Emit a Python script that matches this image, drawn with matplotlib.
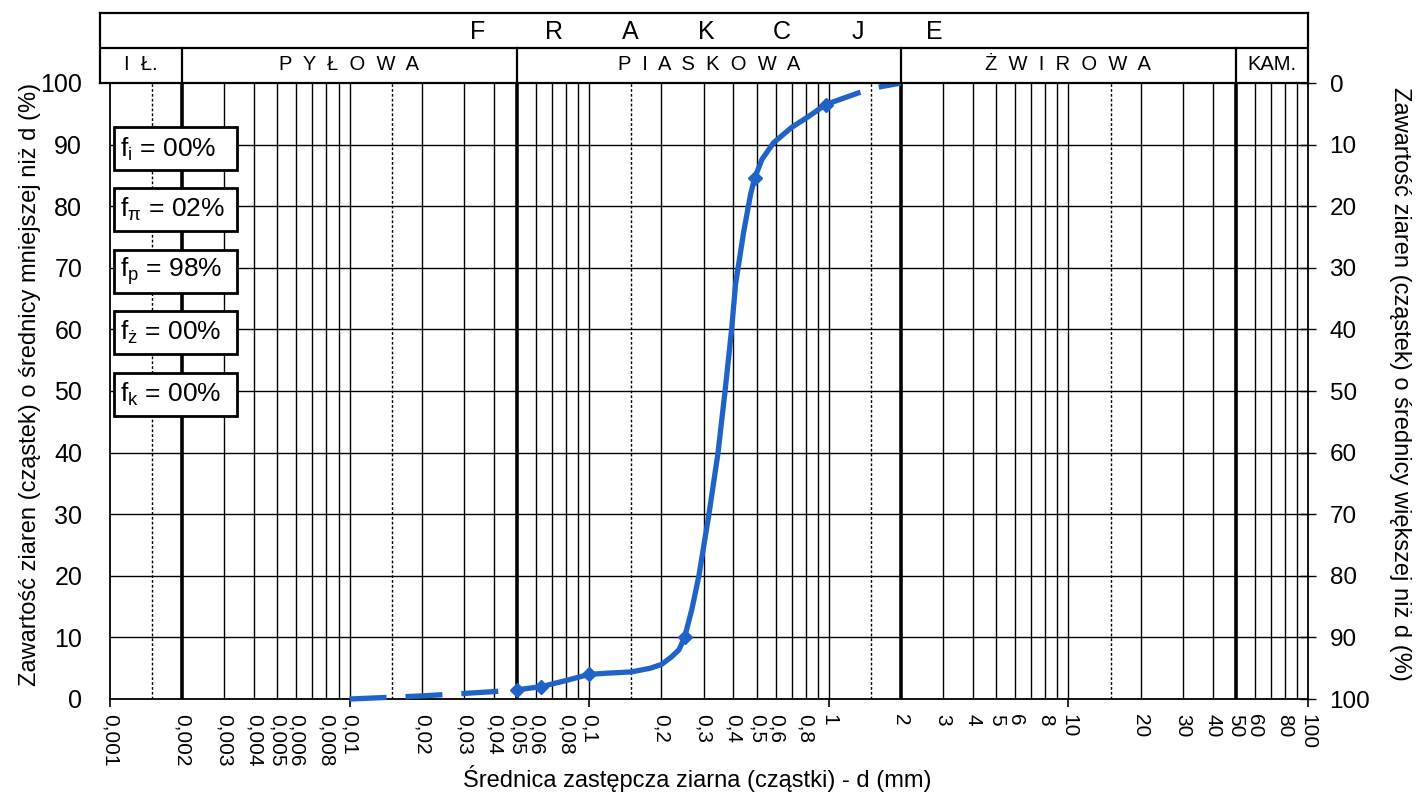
import matplotlib
matplotlib.use("Agg")
import matplotlib.pyplot as plt
from matplotlib.patches import Rectangle

plt.rcParams["font.family"] = ["Liberation Sans", "DejaVu Sans"]
plt.rcParams["mathtext.fontset"] = "custom"
plt.rcParams["mathtext.rm"] = "Liberation Sans"
plt.rcParams["mathtext.it"] = "Liberation Sans:italic"

BLUE = "#1f62c8"

# grain size curve (d in mm, % finer than d)
d_solid = [0.05, 0.063, 0.08, 0.1, 0.12, 0.15, 0.18, 0.2, 0.22, 0.237, 0.25,
           0.268, 0.287, 0.316, 0.345, 0.369, 0.393, 0.408, 0.428, 0.442,
           0.472, 0.49, 0.526, 0.588, 0.70, 0.826, 0.97]
p_solid = [1.5, 2.0, 3.0, 4.0, 4.2, 4.4, 5.0, 5.6, 6.8, 8.0, 10.0,
           14.5, 20.0, 30.0, 40.0, 50.0, 60.0, 67.3, 72.5, 76.0,
           82.0, 84.5, 87.6, 90.3, 92.8, 94.6, 96.5]
d_fine_dash = [0.01, 0.02, 0.03, 0.04, 0.05]
p_fine_dash = [0.0, 0.5, 0.9, 1.2, 1.5]
d_coarse_dash = [0.97, 1.33, 1.6, 2.0]
p_coarse_dash = [96.5, 98.4, 99.3, 100.0]
d_points = [0.05, 0.063, 0.1, 0.25, 0.49, 0.97]
p_points = [1.5, 2.0, 4.0, 10.0, 84.5, 96.5]

# header: fraction names and their limits
fraction_edges = [0.00091, 0.002, 0.05, 2, 50, 100]
fraction_names = ["I  Ł.", "P  Y  Ł  O  W  A", "P  I  A  S  K  O  W  A",
                  "Ż  W  I  R  O  W  A", "KAM."]
header_letters = ["F", "R", "A", "K", "C", "J", "E"]

share_labels = [r"f$_{\mathregular{i}}$ = 00%", r"f$_{\mathregular{π}}$ = 02%",
                r"f$_{\mathregular{p}}$ = 98%", r"f$_{\mathregular{ż}}$ = 00%",
                r"f$_{\mathregular{k}}$ = 00%"]
share_centers = [89.3, 79.5, 69.4, 59.5, 49.4]

major_ticks = [0.001, 0.01, 0.1, 1, 10, 100]
minor_ticks = [m * 10.0 ** k for k in range(-3, 2) for m in (2, 3, 4, 5, 6, 8)]
thick_lines = [0.002, 0.05, 2, 50]
dotted_lines = [0.0015, 0.015, 0.15, 1.5, 15]
grid_lines = [m * 10.0 ** k for k in range(-3, 2) for m in range(1, 10)] + [100]


def fmt(v):
    return f"{v:g}".replace(".", ",")


fig = plt.figure(figsize=(14.17, 8.02), dpi=100)
W, H = 1417, 802
x0, x1 = 110, 1308
y_top, y_bot = 83, 699
ax = fig.add_axes([x0 / W, 1 - y_bot / H, (x1 - x0) / W, (y_bot - y_top) / H])
ax.set_xscale("log")
ax.set_xlim(0.001, 100)
ax.set_ylim(0, 100)

for v in grid_lines:
    if v in thick_lines or v in (0.001, 100):
        continue
    ax.axvline(v, color="black", lw=1.0, zorder=1)
for v in thick_lines:
    ax.axvline(v, color="black", lw=2.6, zorder=1)
for v in dotted_lines:
    ax.axvline(v, color="black", lw=1.0, ls=(0, (2, 1.5)), zorder=1)
for yv in range(10, 100, 10):
    ax.axhline(yv, color="black", lw=1.0, zorder=1)

for s in ax.spines.values():
    s.set_linewidth(1.3)

ax.set_xticks(major_ticks, [fmt(v) for v in major_ticks])
ax.set_xticks(minor_ticks, [fmt(v) for v in minor_ticks], minor=True)
ax.tick_params(axis="x", which="both", direction="out", length=6, pad=5,
               labelsize=15, labelrotation=270)
ax.tick_params(axis="x", which="minor", width=0)
ax.tick_params(axis="x", which="major", width=1.2)
ax.set_yticks(range(0, 101, 10))
ax.tick_params(axis="y", length=0, pad=20, labelsize=18)

ax2 = ax.twinx()
ax2.set_ylim(100, 0)
ax2.set_yticks(range(0, 101, 10))
ax2.tick_params(axis="y", direction="inout", length=11, width=1.0, pad=10, labelsize=17.5)
for s in ax2.spines.values():
    s.set_visible(False)

# percentage boxes
bx0, bx1 = 0.00104, 0.00338
for lab, yc in zip(share_labels, share_centers):
    ax.add_patch(Rectangle((bx0, yc - 3.5), bx1 - bx0, 7.0, facecolor="white",
                           edgecolor="black", lw=2.0, zorder=3))
    ax.text(0.00110, yc, lab, fontsize=19, va="center", ha="left", zorder=4)

# curve
ax.plot(d_fine_dash, p_fine_dash, color=BLUE, lw=3.8, dashes=(7, 3.6),
        solid_capstyle="round", zorder=5, clip_on=False)
ax.plot(d_coarse_dash, p_coarse_dash, color=BLUE, lw=3.8, dashes=(7, 3.6),
        zorder=5, clip_on=False)
ax.plot(d_solid, p_solid, color=BLUE, lw=3.8, zorder=5, solid_joinstyle="round")
ax.plot(d_points, p_points, ls="none", marker="D", ms=7, color=BLUE, zorder=6)

# header table
hx0 = 100
hax = fig.add_axes([hx0 / W, 1 - y_top / H, (x1 - hx0) / W, 70 / H])
hax.set_xscale("log")
hax.set_xlim(fraction_edges[0], fraction_edges[-1])
hax.set_ylim(0, 2)
hax.set_xticks([])
hax.set_yticks([])
hax.minorticks_off()
for s in hax.spines.values():
    s.set_linewidth(1.6)
hax.axhline(1, color="black", lw=1.6)
for e in fraction_edges[1:-1]:
    hax.plot([e, e], [0, 1], color="black", lw=1.6)
for i, name in enumerate(fraction_names):
    a, b = fraction_edges[i], fraction_edges[i + 1]
    hax.text((a * b) ** 0.5, 0.52, name, fontsize=14.5, ha="center", va="center")
for i, ch in enumerate(header_letters):
    hax.text(0.313 + 0.0629 * i, 0.73, ch, fontsize=18, ha="center", va="center",
             transform=hax.transAxes)

fig.text(697 / W, 1 - 778 / H, "Średnica zastępcza ziarna (cząstki) - d (mm)",
         fontsize=17, ha="center", va="center")
fig.text(30 / W, 1 - 384 / H, "Zawartość ziaren (cząstek) o średnicy mniejszej niż d (%)",
         fontsize=17, rotation=90, ha="center", va="center")
fig.text(1400 / W, 1 - 384 / H, "Zawartość ziaren (cząstek) o średnicy większej niż d (%)",
         fontsize=17, rotation=270, ha="center", va="center")

fig.savefig("out.png", dpi=100)
